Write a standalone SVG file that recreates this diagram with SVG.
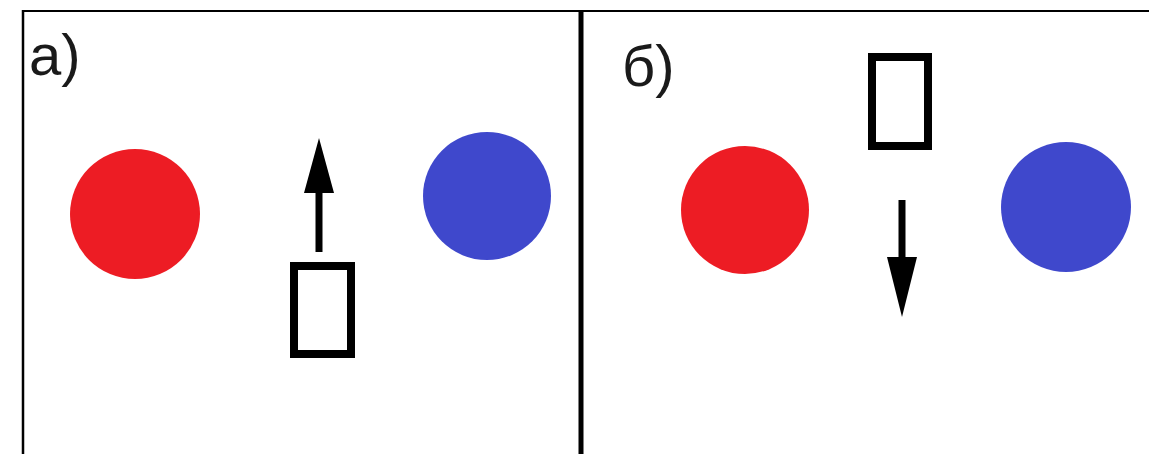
<svg xmlns="http://www.w3.org/2000/svg" width="1149" height="454" viewBox="0 0 1149 454">
<style>
.red{fill:#ed1c24}
.blue{fill:#3f48cc}
.box{fill:none;stroke:#000;stroke-width:8}
.shaft{stroke:#000;stroke-width:7;fill:none}
.lbl{font-family:"Liberation Sans",Arial,sans-serif;font-size:58px;fill:#1a1a1a}
</style>
<rect x="0" y="0" width="1149" height="454" fill="#fff"/>
<g id="frame">
<line x1="23" y1="11" x2="1149" y2="11" stroke="#000" stroke-width="2"/>
<line x1="23" y1="10" x2="23" y2="454" stroke="#000" stroke-width="2.5"/>
<line x1="581" y1="11" x2="581" y2="454" stroke="#000" stroke-width="5"/>
</g>
<g id="label-a"><text class="lbl" x="29" y="75">а)</text></g>
<g id="label-b"><text class="lbl" x="622" y="86">б)</text></g>
<g id="red-a"><circle class="red" cx="135" cy="214" r="65"/></g>
<g id="blue-a"><circle class="blue" cx="487" cy="196" r="64"/></g>
<g id="box-a"><rect class="box" x="294" y="266" width="57" height="88"/></g>
<g id="red-b"><circle class="red" cx="745" cy="210" r="64"/></g>
<g id="blue-b"><circle class="blue" cx="1066" cy="207" r="65"/></g>
<g id="box-b"><rect class="box" x="872" y="57" width="56" height="89"/></g>
<g id="connectors">
<line class="shaft" x1="319" y1="252" x2="319" y2="185"/>
<polygon points="319,138 304,193 334,193" fill="#000"/>
<line class="shaft" x1="902" y1="200" x2="902" y2="265"/>
<polygon points="902,317 887,257 917,257" fill="#000"/>
</g>
</svg>
